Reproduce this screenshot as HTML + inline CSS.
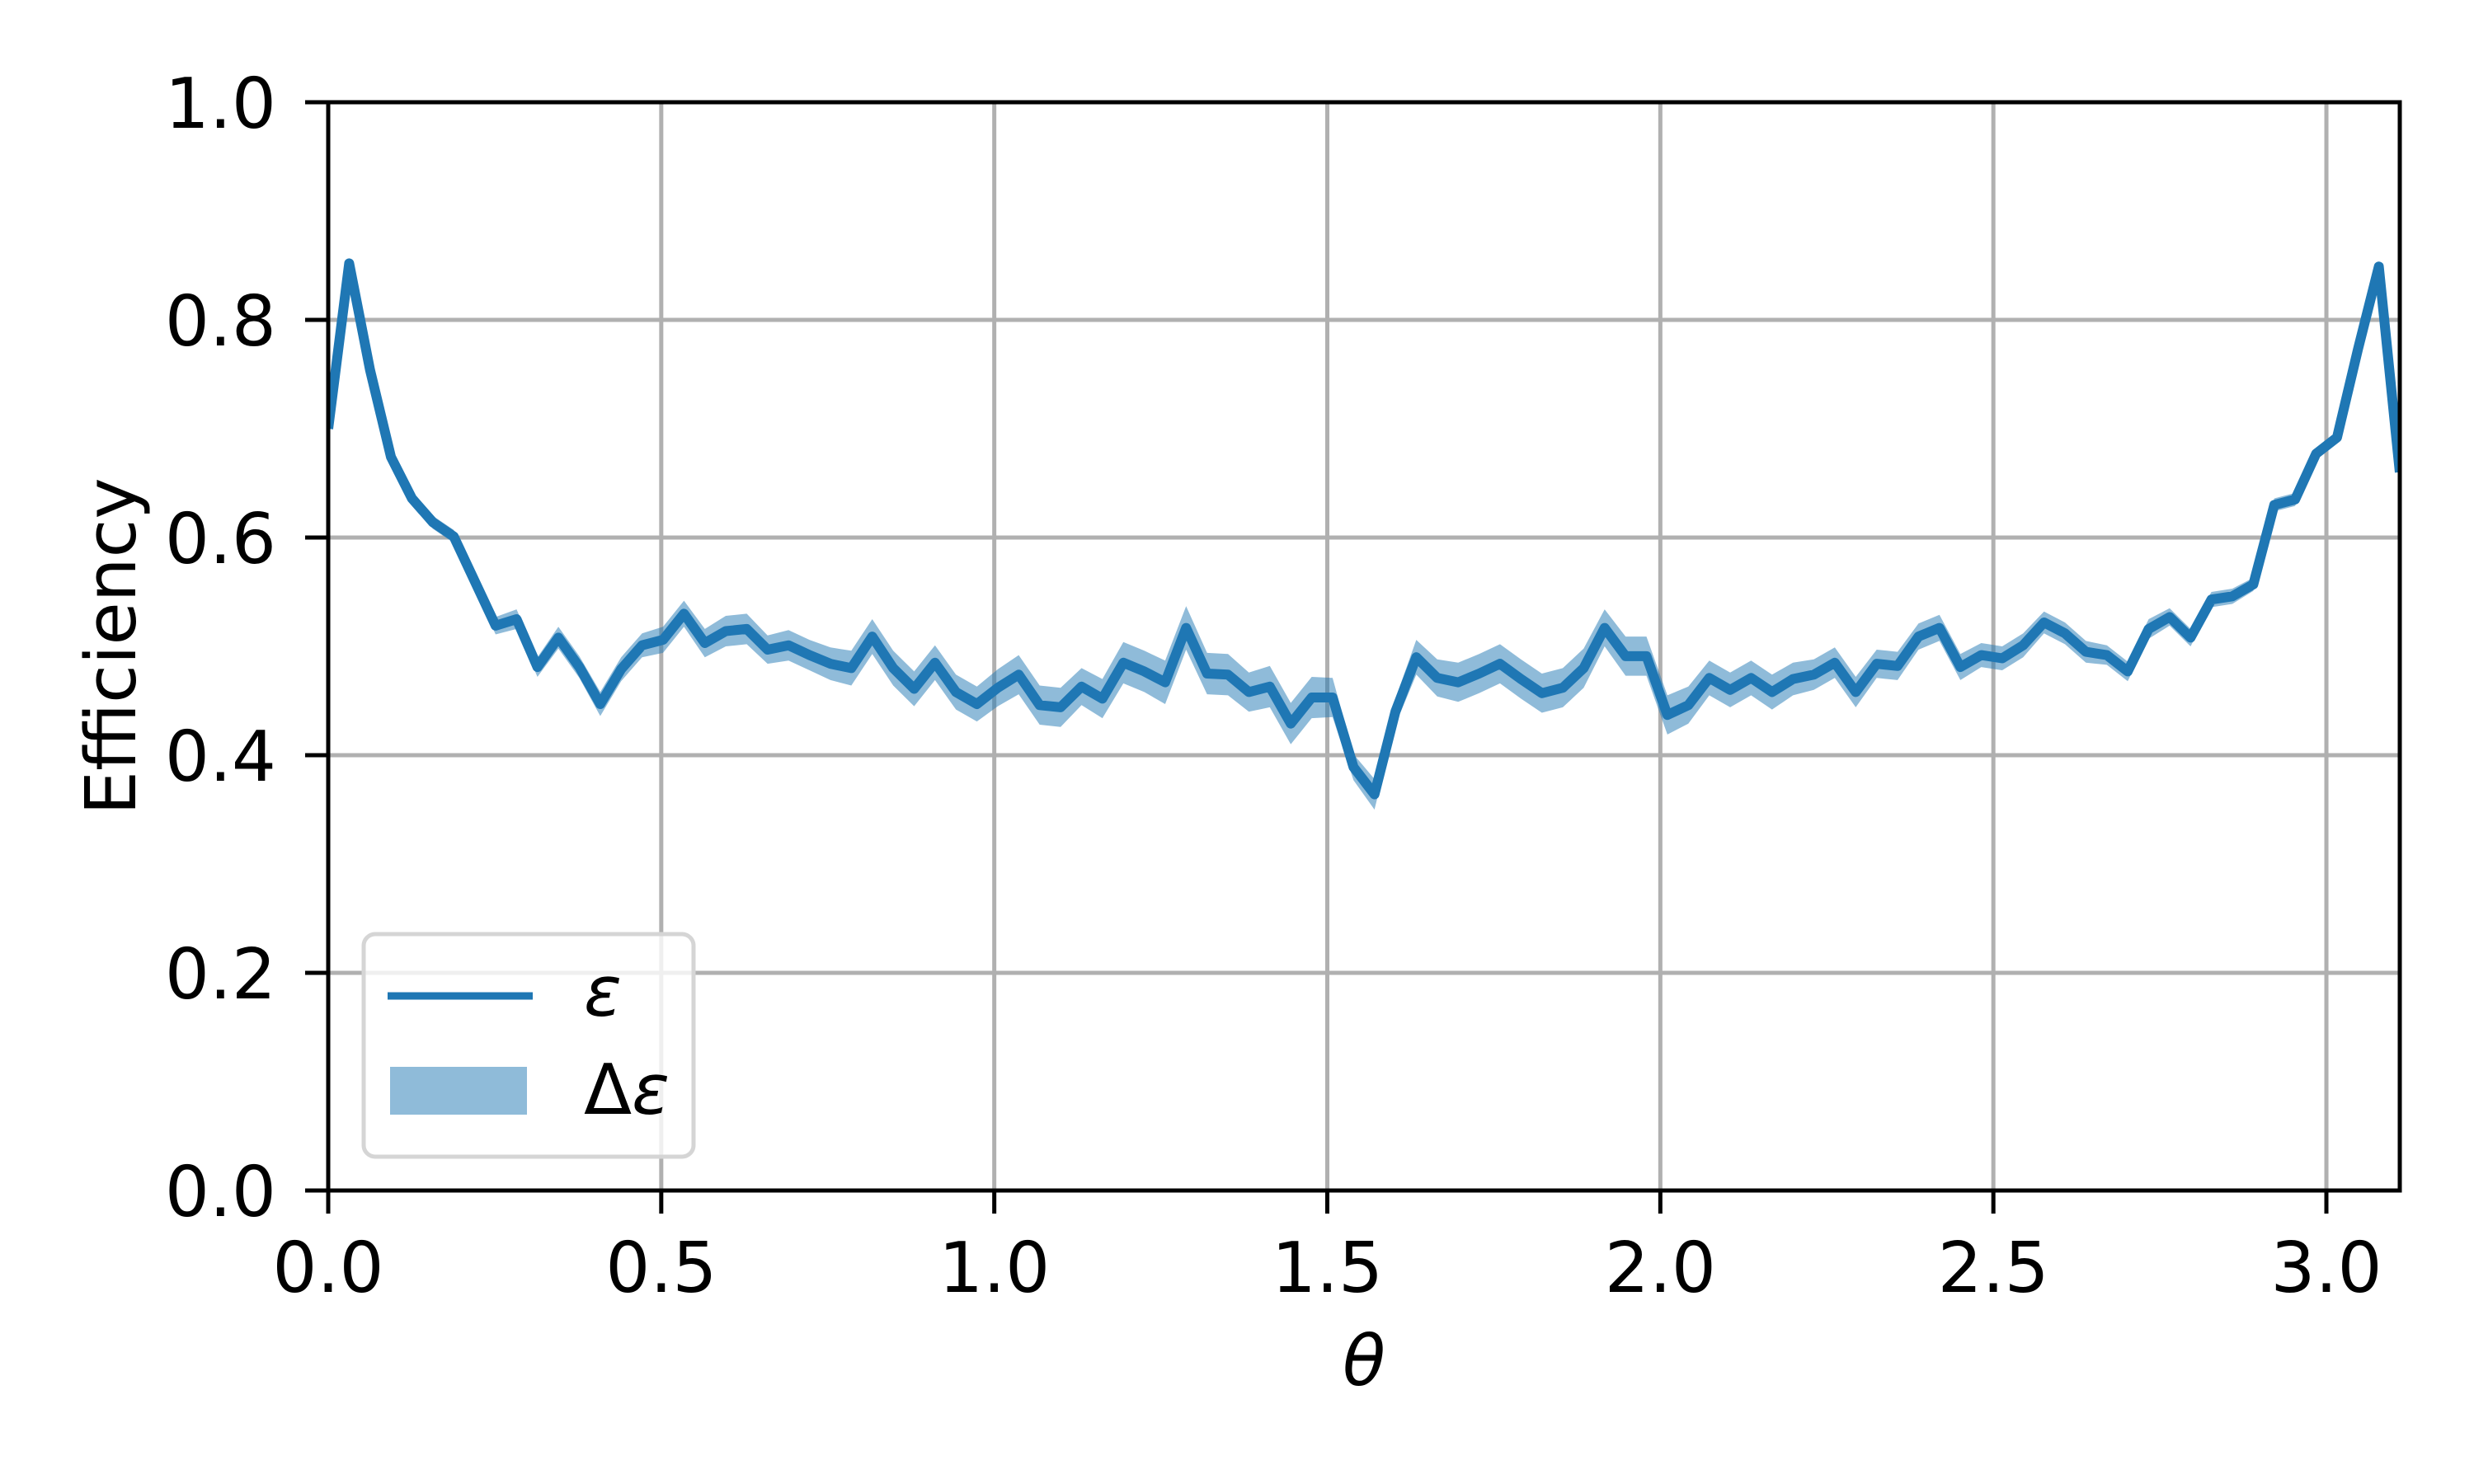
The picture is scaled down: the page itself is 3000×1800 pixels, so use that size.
<!DOCTYPE html>
<html><head><meta charset="utf-8"><style>
html,body{margin:0;padding:0;background:#fff;}
svg{display:block;}
text{font-family:"DejaVu Sans","Liberation Sans",sans-serif;fill:#000;}
</style></head>
<body>
<svg id="chart" width="3000" height="1800" viewBox="0 0 3000 1800" xmlns="http://www.w3.org/2000/svg">
<rect width="3000" height="1800" fill="#fff"/>
<g id="grid"></g>
<g id="band"></g>
<g id="line"></g>
<g id="axes"></g>
<text x="134" y="784" font-size="85" text-anchor="middle" transform="rotate(-90 134 784)" dy="0.35em">Efficiency</text>
<text x="1654" y="1680" font-size="85" text-anchor="middle" font-style="italic">θ</text>
<g>
<rect x="441" y="1133" width="400" height="270" rx="14" fill="#fff" fill-opacity="0.8" stroke="#d5d5d5" stroke-width="5"/>
<line x1="470" y1="1208" x2="646" y2="1208" stroke="#1f77b4" stroke-width="9"/>
<text x="708" y="1232" font-size="85" font-style="italic">ε</text>
<rect x="473" y="1294" width="166" height="58" fill="#1f77b4" fill-opacity="0.5"/>
<text x="708" y="1351" font-size="85">Δ<tspan font-style="italic">ε</tspan></text>
</g>
</svg>
<script>
const yValues = [0.700,0.852,0.754,0.674,0.636,0.614,0.601,0.560,0.519,0.525,
0.481,0.508,0.481,0.447,0.479,0.501,0.506,0.530,0.503,0.514,
0.516,0.497,0.501,0.492,0.484,0.480,0.509,0.480,0.461,0.485,
0.458,0.447,0.462,0.474,0.446,0.444,0.463,0.452,0.485,0.477,
0.467,0.517,0.475,0.474,0.458,0.463,0.429,0.453,0.453,0.389,
0.364,0.440,0.490,0.471,0.467,0.475,0.484,0.470,0.457,0.462,
0.480,0.517,0.491,0.491,0.437,0.446,0.471,0.460,0.471,0.458,
0.470,0.474,0.485,0.458,0.484,0.482,0.509,0.517,0.481,0.492,
0.489,0.501,0.522,0.512,0.495,0.492,0.477,0.516,0.527,0.508,
0.543,0.546,0.557,0.630,0.635,0.677,0.692,0.773,0.849,0.660];
const yErrors = [0.004,0.004,0.004,0.004,0.005,0.006,0.006,0.007,0.008,0.009,
0.009,0.010,0.010,0.011,0.011,0.011,0.012,0.012,0.013,0.014,
0.014,0.013,0.014,0.014,0.015,0.016,0.016,0.016,0.016,0.016,
0.016,0.016,0.017,0.018,0.018,0.018,0.017,0.018,0.019,0.019,
0.020,0.020,0.019,0.019,0.018,0.019,0.019,0.019,0.018,0.012,
0.014,0.012,0.016,0.017,0.018,0.018,0.018,0.018,0.018,0.018,
0.018,0.017,0.018,0.018,0.018,0.017,0.016,0.016,0.016,0.016,
0.015,0.014,0.014,0.014,0.013,0.013,0.012,0.012,0.012,0.011,
0.011,0.011,0.010,0.010,0.010,0.009,0.009,0.009,0.008,0.008,
0.007,0.007,0.006,0.006,0.006,0.005,0.005,0.004,0.004,0.004];
const xTicks = [0.0,0.5,1.0,1.5,2.0,2.5,3.0];
const xTickLabels = ["0.0","0.5","1.0","1.5","2.0","2.5","3.0"];
const yTicks = [0.0,0.2,0.4,0.6,0.8,1.0];
const yTickLabels = ["0.0","0.2","0.4","0.6","0.8","1.0"];

const NS = "http://www.w3.org/2000/svg";
const L = 398, R = 2910, T = 124, B = 1444;
const xMin = 0, xMax = 99*Math.PI/100, yMin = 0, yMax = 1;
const sx = v => L + (v - xMin) / (xMax - xMin) * (R - L);
const sy = v => B - (v - yMin) / (yMax - yMin) * (B - T);
const xOf = i => i * Math.PI / 100;
function mk(tag, attrs, parent){ const e=document.createElementNS(NS,tag); for(const k in attrs) e.setAttribute(k,attrs[k]); parent.appendChild(e); return e; }

const grid = document.getElementById('grid');
xTicks.forEach((t,i)=>{
  const g = mk('line',{x1:sx(t),x2:sx(t),y1:T,y2:B,stroke:'#b0b0b0','stroke-width':5},grid);
  
  
});
yTicks.forEach((t,i)=>{
  const g = mk('line',{x1:L,x2:R,y1:sy(t),y2:sy(t),stroke:'#b0b0b0','stroke-width':5},grid);
  
  
});

const clip = mk('clipPath',{id:'plotclip'},document.getElementById('chart'));
mk('rect',{x:L,y:T,width:R-L,height:B-T},clip);

let up = yValues.map((v,i)=>sx(xOf(i)).toFixed(1)+','+sy(v+yErrors[i]).toFixed(1));
let dn = yValues.map((v,i)=>sx(xOf(i)).toFixed(1)+','+sy(v-yErrors[i]).toFixed(1)).reverse();
const band = mk('polygon',{points:up.concat(dn).join(' '),fill:'#1f77b4','fill-opacity':0.5,'clip-path':'url(#plotclip)'},document.getElementById('band'));



const pts = yValues.map((v,i)=>sx(xOf(i)).toFixed(1)+','+sy(v).toFixed(1)).join(' ');
const ln = mk('polyline',{points:pts,fill:'none',stroke:'#1f77b4','stroke-width':12,'stroke-linejoin':'round','stroke-linecap':'butt','clip-path':'url(#plotclip)'},document.getElementById('line'));



const axes = document.getElementById('axes');
const frame = mk('rect',{x:L,y:T,width:R-L,height:B-T,fill:'none',stroke:'#000','stroke-width':5},axes);


xTicks.forEach((t,i)=>{
  const tk = mk('line',{x1:sx(t),x2:sx(t),y1:B,y2:B+28,stroke:'#000','stroke-width':5},axes);
  
  
  const tx = mk('text',{x:sx(t),y:1567,'font-size':85,'text-anchor':'middle'},axes);
  tx.textContent = xTickLabels[i];
  
  
});
yTicks.forEach((t,i)=>{
  const tk = mk('line',{x1:L-28,x2:L,y1:sy(t),y2:sy(t),stroke:'#000','stroke-width':5},axes);
  
  
  const tx = mk('text',{x:335,y:sy(t)+31,'font-size':85,'text-anchor':'end'},axes);
  tx.textContent = yTickLabels[i];
  
  
});
</script>
</body></html>
